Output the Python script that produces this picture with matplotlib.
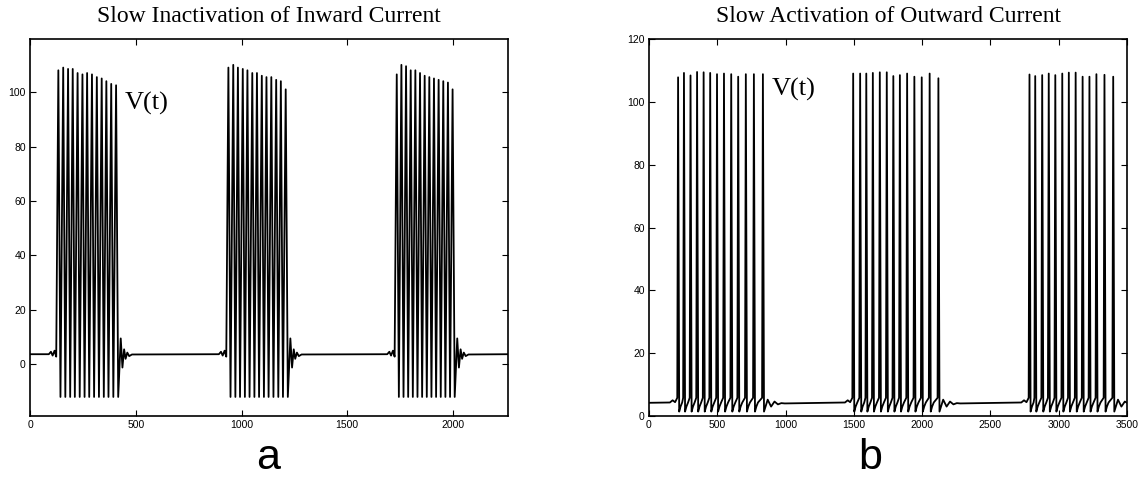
import matplotlib
matplotlib.use('Agg')
import matplotlib.pyplot as plt
import numpy as np

# ---- panel a: slow inactivation of inward current ----
a_peak_times = [
    [134, 157, 180, 202, 225, 248, 270, 293, 316, 339, 361, 384, 407],
    [938, 961, 983, 1006, 1028, 1051, 1073, 1096, 1118, 1141, 1164, 1186, 1209],
    [1734, 1756, 1778, 1800, 1822, 1844, 1866, 1888, 1910, 1932, 1954, 1976, 1998],
]
a_peak_heights = [
    [108, 109, 108.5, 108.5, 107, 106.5, 107, 106.5, 105.5, 105, 104, 103, 102.5],
    [109, 110, 109, 108.5, 108, 107, 107, 106, 105.5, 105.5, 104.5, 104, 101],
    [106.5, 110, 109.5, 108, 108, 107, 106, 105.5, 105, 104.5, 104, 103.5, 101],
]
a_baseline = 3.7
a_end = 2260
a_after_peak = [(10, -12)]
a_before_peak = []
a_pre_burst = [(-45, 3.7), (-35, 4.6), (-27, 3.2), (-18, 5.0), (-10, 2.8)]
a_post_burst = [(10, -12), (22, 9.5), (30, -1.2), (38, 5.5), (45, 2.0),
                (53, 4.3), (62, 3.0), (75, 3.6)]

# ---- panel b: slow activation of outward current ----
b_peak_times = [
    [213, 256, 304, 352, 400, 448, 498, 549, 602, 653, 709, 768, 834],
    [1495, 1546, 1591, 1639, 1690, 1741, 1789, 1837, 1890, 1943, 1997, 2055, 2119],
    [2786, 2828, 2879, 2927, 2975, 3026, 3074, 3124, 3175, 3225, 3276, 3335, 3399],
]
b_peak_heights = [
    [107.8, 109.2, 108.4, 109.5, 109.4, 109.2, 108.8, 109.0, 108.8, 108.0, 108.8, 108.8, 108.8],
    [109.0, 109.0, 109.0, 109.2, 109.4, 109.4, 108.2, 108.5, 109.0, 108.0, 107.8, 109.0, 107.5],
    [108.7, 108.2, 108.5, 109.0, 108.5, 109.0, 109.3, 109.3, 108.0, 108.0, 108.8, 108.6, 108.0],
]
b_baseline = 4.2
b_end = 3500
b_after_peak = [(8, 1.4), (18, 3.0), (30, 4.3)]
b_before_peak = [(-6, 5.8)]
b_pre_burst = [(-60, 4.3), (-40, 5.0), (-22, 4.4), (-6, 5.8)]
b_post_burst = [(8, 1.4), (35, 5.2), (60, 3.0), (85, 4.6), (110, 3.7),
                (135, 4.1), (160, 4.0)]


def build_trace(peaks, heights, base, t_end, after, before, pre, post):
    t = [0]
    v = [base]
    for times, hs in zip(peaks, heights):
        for dt, dv in pre:
            t.append(times[0] + dt); v.append(dv)
        for i, (tp, hp) in enumerate(zip(times, hs)):
            if i > 0:
                for dt, dv in before:
                    t.append(tp + dt); v.append(dv)
            t.append(tp); v.append(hp)
            extra = post if i == len(times) - 1 else after
            for dt, dv in extra:
                t.append(tp + dt); v.append(dv)
    t.append(t_end); v.append(base)
    t = np.array(t); v = np.array(v)
    keep = t <= t_end
    return t[keep], v[keep]


ta, va = build_trace(a_peak_times, a_peak_heights, a_baseline, a_end,
                     a_after_peak, a_before_peak, a_pre_burst, a_post_burst)
tb, vb = build_trace(b_peak_times, b_peak_heights, b_baseline, b_end,
                     b_after_peak, b_before_peak, b_pre_burst, b_post_burst)

fig = plt.figure(figsize=(11.41, 4.87), dpi=100)
W, H = 1141, 487
ax1 = fig.add_axes([30 / W, 1 - 416 / H, 478 / W, 377 / H])
ax2 = fig.add_axes([649 / W, 1 - 416 / H, 478 / W, 377 / H])

serif = ['Liberation Serif', 'DejaVu Serif']
sans = ['Liberation Sans', 'DejaVu Sans']

for ax, t, v in [(ax1, ta, va), (ax2, tb, vb)]:
    ax.plot(t, v, color='black', lw=1.3)
    ax.tick_params(direction='in', top=True, right=True, length=4,
                   width=0.8, labelsize=7.5, pad=3)
    for lab in ax.get_xticklabels() + ax.get_yticklabels():
        lab.set_family(sans)
    for s in ax.spines.values():
        s.set_linewidth(1.2)

ax1.set_xlim(0, 2260)
ax1.set_ylim(-19, 119.5)
ax1.set_xticks([0, 500, 1000, 1500, 2000])
ax1.set_yticks([0, 20, 40, 60, 80, 100])
ax2.set_xlim(0, 3500)
ax2.set_ylim(0, 120)
ax2.set_xticks(np.arange(0, 3501, 500))
ax2.set_yticks(np.arange(0, 121, 20))
for ax in (ax1, ax2):
    for lab in ax.get_xticklabels() + ax.get_yticklabels():
        lab.set_family(sans)

ax1.text(0.5, 1 + 22 / 377, 'Slow Inactivation of Inward Current',
         transform=ax1.transAxes, ha='center', va='center',
         family=serif, fontsize=17)
ax2.text(0.5, 1 + 22 / 377, 'Slow Activation of Outward Current',
         transform=ax2.transAxes, ha='center', va='center',
         family=serif, fontsize=17)

ax1.text(449, 96, 'V(t)', family=serif, fontsize=19, va='center', ha='left')
ax2.text(900, 104, 'V(t)', family=serif, fontsize=19, va='center', ha='left')

fig.text(268 / W, 1 - 469 / H, 'a', family=sans, fontsize=31,
         ha='center', va='baseline')
fig.text(870 / W, 1 - 469 / H, 'b', family=sans, fontsize=31,
         ha='center', va='baseline')

fig.savefig('out.png', dpi=100)
